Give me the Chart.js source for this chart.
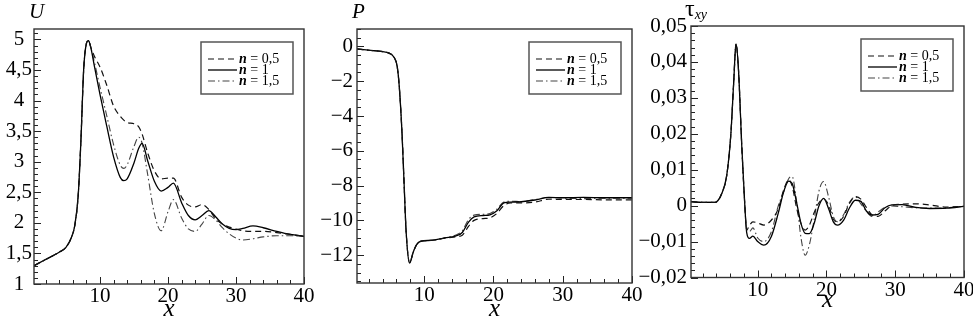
<!DOCTYPE html>
<html><head><meta charset="utf-8">
<script src="https://cdn.jsdelivr.net/npm/chart.js@4/dist/chart.umd.min.js"></script>
<style>
html,body{margin:0;padding:0;background:#fff;width:973px;height:324px;overflow:hidden;position:relative}
canvas{position:absolute;top:0}
.t{position:absolute;font-family:"Liberation Serif",serif;color:#000;line-height:20px;white-space:nowrap}
</style></head><body>
<canvas id="cU" width="320" height="324" style="left:0px"></canvas>
<canvas id="cP" width="335" height="324" style="left:310px"></canvas>
<canvas id="cT" width="345" height="324" style="left:628px"></canvas>
<div class="t" style="left:29px;top:1px;font-size:21px;font-style:italic">U</div>
<div class="t" style="left:352px;top:1px;font-size:21px;font-style:italic">P</div>
<div class="t" style="left:685px;top:-2px;font-size:24px">τ<sub style="font-size:14px;font-style:italic;vertical-align:-3px">xy</sub></div>
<script>
// ---------- data ----------
const seriesLabels = ['n = 0,5', 'n = 1', 'n = 1,5'];
const xTicks = [10, 20, 30, 40];
const uTicks = [1, 1.5, 2, 2.5, 3, 3.5, 4, 4.5, 5];
const pTicks = [-12, -10, -8, -6, -4, -2, 0];
const tTicks = [-0.02, -0.01, 0, 0.01, 0.02, 0.03, 0.04, 0.05];

// U panel
const X_U   = [0.3, 2, 4, 5, 5.8, 6.3, 6.8, 7.2, 7.6, 8, 8.3, 8.7, 9.2, 10, 11, 12, 13, 13.5, 14, 15, 15.7, 16.2, 17, 18, 19, 20, 20.8, 22, 23, 24, 25, 26, 27, 28, 29, 30, 31, 32.5, 34, 36, 38, 40];
const U_n05 = [1.30, 1.40, 1.52, 1.60, 1.76, 1.96, 2.45, 3.35, 4.50, 4.93, 4.98, 4.86, 4.72, 4.55, 4.25, 3.91, 3.74, 3.68, 3.64, 3.62, 3.57, 3.45, 3.15, 2.85, 2.72, 2.73, 2.73, 2.42, 2.29, 2.26, 2.30, 2.22, 2.07, 1.98, 1.93, 1.90, 1.87, 1.86, 1.86, 1.84, 1.81, 1.78];
const U_n1  = [1.30, 1.40, 1.52, 1.60, 1.76, 1.96, 2.45, 3.35, 4.50, 4.93, 4.98, 4.84, 4.55, 4.10, 3.58, 3.08, 2.74, 2.69, 2.72, 2.98, 3.22, 3.30, 3.02, 2.68, 2.52, 2.58, 2.65, 2.33, 2.12, 2.05, 2.12, 2.20, 2.10, 1.98, 1.91, 1.89, 1.91, 1.95, 1.92, 1.86, 1.81, 1.78];
const U_n15 = [1.30, 1.40, 1.52, 1.60, 1.76, 1.96, 2.45, 3.35, 4.50, 4.93, 4.98, 4.85, 4.62, 4.22, 3.75, 3.28, 2.94, 2.89, 2.95, 3.25, 3.40, 3.30, 2.80, 2.15, 1.87, 2.18, 2.38, 2.08, 1.90, 1.86, 1.98, 2.12, 2.05, 1.92, 1.82, 1.75, 1.72, 1.74, 1.77, 1.79, 1.79, 1.78];

// P panel
const X_P   = [0.3, 2, 4, 5, 5.6, 6.1, 6.4, 6.8, 7.1, 7.4, 7.9, 8.4, 8.9, 9.5, 11, 13, 14.5, 15.5, 16.4, 17.2, 18.5, 19.5, 20.5, 21.5, 22.5, 24, 26, 28, 30, 33, 36, 40];
const P_n05 = [-0.15, -0.22, -0.30, -0.40, -0.60, -1.15, -2.3, -5.0, -7.9, -10.7, -12.45, -11.85, -11.4, -11.2, -11.15, -11.02, -10.95, -10.85, -10.35, -10.0, -9.9, -9.85, -9.6, -9.15, -9.0, -9.0, -8.95, -8.78, -8.8, -8.8, -8.82, -8.82];
const P_n1  = [-0.15, -0.22, -0.30, -0.40, -0.60, -1.15, -2.3, -5.0, -7.9, -10.7, -12.45, -11.85, -11.4, -11.2, -11.15, -11.0, -10.9, -10.7, -10.1, -9.8, -9.72, -9.68, -9.45, -9.0, -8.95, -8.93, -8.83, -8.68, -8.7, -8.68, -8.7, -8.7];
const P_n15 = [-0.15, -0.22, -0.30, -0.40, -0.60, -1.15, -2.3, -5.0, -7.9, -10.7, -12.45, -11.85, -11.4, -11.2, -11.15, -11.0, -10.85, -10.6, -9.95, -9.7, -9.65, -9.6, -9.35, -8.95, -8.9, -8.92, -8.8, -8.68, -8.72, -8.75, -8.72, -8.72];

// tau_xy panel
const X_T   = [0.3, 2, 3.8, 4.8, 5.5, 6.1, 6.5, 6.85, 7.2, 7.7, 8.1, 8.4, 8.8, 9.3, 10, 10.9, 12, 13, 13.8, 14.5, 15, 15.7, 16.3, 16.9, 17.5, 18.2, 18.9, 19.6, 20.3, 21, 21.6, 22.5, 23.3, 24.2, 25, 25.8, 26.6, 27.5, 28.5, 29.5, 31, 33, 35, 37.5, 40];
const T_n05 = [0.0011, 0.0009, 0.0009, 0.0035, 0.0085, 0.020, 0.034, 0.045, 0.038, 0.016, 0.001, -0.0068, -0.0055, -0.0045, -0.0048, -0.0054, -0.0040, -0.0008, 0.0045, 0.0072, 0.0055, -0.0010, -0.0050, -0.0068, -0.0055, -0.0020, 0.0008, 0.0018, 0.0002, -0.0038, -0.0045, -0.0030, 0.0005, 0.0025, 0.0018, -0.0005, -0.0025, -0.0030, -0.0015, 0.0000, 0.0004, 0.0005, 0.0002, -0.0004, -0.0002];
const T_n1  = [0.0011, 0.0009, 0.0009, 0.0035, 0.0085, 0.020, 0.034, 0.045, 0.038, 0.016, 0.001, -0.0075, -0.0091, -0.0085, -0.0100, -0.0110, -0.0085, -0.0020, 0.0040, 0.0068, 0.0062, 0.0005, -0.0050, -0.0077, -0.0078, -0.0050, -0.0001, 0.0020, -0.0008, -0.0045, -0.0054, -0.0040, -0.0008, 0.0015, 0.0012, -0.0015, -0.0026, -0.0024, -0.0006, 0.0002, 0.0003, -0.0005, -0.0008, -0.0007, -0.0002];
const T_n15 = [0.0011, 0.0009, 0.0009, 0.0035, 0.0085, 0.020, 0.034, 0.045, 0.038, 0.016, 0.001, -0.0070, -0.0072, -0.0062, -0.0090, -0.0100, -0.0072, 0.0000, 0.0040, 0.0075, 0.0081, 0.0005, -0.0090, -0.0138, -0.0110, -0.0040, 0.0040, 0.0067, 0.0025, -0.0030, -0.0045, -0.0025, 0.0008, 0.0025, 0.0005, -0.0015, -0.0030, -0.0018, -0.0005, -0.0001, -0.0003, -0.0006, -0.0007, -0.0006, -0.0002];

// ---------- styles ----------
const styles = [
  {color: '#111', width: 1.2, dash: [6, 4]},
  {color: '#000', width: 1.3, dash: []},
  {color: '#444', width: 1.1, dash: [7, 3, 1.5, 3]}
];
const FONT = '"Liberation Serif", serif';

function fmt(v) {
  let s = String(Math.round(v * 1e6) / 1e6).replace('.', ',');
  if (s[0] === '-') s = '\u2212' + s.slice(1);
  return s;
}

const frameTicks = {
  id: 'frameTicks',
  afterDatasetsDraw(chart, args, o) {
    const {ctx, chartArea: a, scales: {x, y}} = chart;
    ctx.save();
    ctx.strokeStyle = '#222';
    ctx.lineWidth = 1;
    ctx.beginPath();
    const isMajor = (v, m) => Math.abs(v / m - Math.round(v / m)) < 1e-6;
    for (let k = Math.ceil(x.min / o.xMinor - 1e-9); k * o.xMinor <= x.max + 1e-9; k++) {
      const v = k * o.xMinor;
      const px = Math.round(x.getPixelForValue(v)) + 0.5;
      const len = isMajor(v, o.xMajor) ? 7 : 4;
      ctx.moveTo(px, a.bottom); ctx.lineTo(px, a.bottom - len);
    }
    for (let k = Math.ceil(y.min / o.yMinor - 1e-9); k * o.yMinor <= y.max + 1e-9; k++) {
      const v = k * o.yMinor;
      const py = Math.round(y.getPixelForValue(v)) + 0.5;
      const len = isMajor(v, o.yMajor) ? 7 : 4;
      ctx.moveTo(a.left, py); ctx.lineTo(a.left + len, py);
    }
    ctx.stroke();
    ctx.lineWidth = 1.4;
    ctx.strokeStyle = '#333';
    ctx.strokeRect(a.left, a.top, a.right - a.left, a.bottom - a.top);
    ctx.restore();
  }
};

const boxLegend = {
  id: 'boxLegend',
  afterDraw(chart, args, o) {
    const {ctx, chartArea: a} = chart;
    const bx = a.right - o.right - o.w, by = a.top + o.top;
    ctx.save();
    ctx.fillStyle = '#fff';
    ctx.fillRect(bx, by, o.w, o.h);
    ctx.strokeStyle = '#555';
    ctx.lineWidth = 1.5;
    ctx.strokeRect(bx, by, o.w, o.h);
    chart.data.datasets.forEach((d, i) => {
      const yy = by + o.row0 + i * o.rowGap;
      ctx.beginPath();
      ctx.setLineDash(d.borderDash || []);
      ctx.strokeStyle = d.borderColor;
      ctx.lineWidth = d.borderWidth;
      ctx.moveTo(bx + o.lx0, yy); ctx.lineTo(bx + o.lx1, yy);
      ctx.stroke();
      ctx.setLineDash([]);
      ctx.fillStyle = '#000';
      ctx.textBaseline = 'middle';
      ctx.textAlign = 'left';
      ctx.font = 'italic bold 14px ' + FONT;
      ctx.fillText(d.label[0], bx + o.tx, yy);
      const w = ctx.measureText(d.label[0]).width;
      ctx.font = '14px ' + FONT;
      ctx.fillText(d.label.slice(1), bx + o.tx + w, yy);
    });
    ctx.restore();
  }
};

function makeChart(id, cfg) {
  const canvas = document.getElementById(id);
  const W = canvas.width, H = canvas.height;
  return new Chart(canvas, {
    type: 'line',
    data: {
      datasets: cfg.series.map((s, i) => ({
        label: seriesLabels[i],
        data: cfg.xs.map((x, j) => ({x: x, y: s[j]})),
        borderColor: styles[i].color,
        borderWidth: styles[i].width,
        borderDash: styles[i].dash,
        pointRadius: 0,
        cubicInterpolationMode: 'monotone',
        fill: false
      }))
    },
    options: {
      responsive: false, animation: false, devicePixelRatio: 1,
      layout: {padding: {left: 0, top: cfg.area.top, right: W - cfg.area.right, bottom: 0}},
      plugins: {
        legend: {display: false}, tooltip: {enabled: false},
        frameTicks: {xMinor: 2, xMajor: 10, yMinor: cfg.yMinor, yMajor: cfg.yMajor},
        boxLegend: {right: 11, top: 13, w: 92, h: 52, row0: 17, rowGap: 11, lx0: 7, lx1: 36, tx: 38}
      },
      scales: {
        x: {
          type: 'linear', min: 0.3, max: 40,
          grid: {display: false, drawTicks: false}, border: {display: false},
          afterBuildTicks: s => { s.ticks = xTicks.map(v => ({value: v})); },
          afterFit: s => { s.height = H - cfg.area.bottom; s.paddingLeft = 0; s.paddingRight = 0; },
          ticks: {font: {family: FONT, size: 21}, color: '#000', padding: cfg.xTickPad, maxRotation: 0, autoSkip: false, callback: v => fmt(v)},
          title: {display: true, text: 'x', color: '#000', font: {family: FONT, style: 'italic', size: 25}, padding: {top: 0, bottom: cfg.xTitlePad}}
        },
        y: {
          type: 'linear', min: cfg.yMin, max: cfg.yMax,
          grid: {display: false, drawTicks: false}, border: {display: false},
          afterBuildTicks: s => { s.ticks = cfg.yTicks.map(v => ({value: v})); },
          afterFit: s => { s.width = cfg.area.left; s.paddingTop = 0; s.paddingBottom = 0; },
          ticks: {font: {family: FONT, size: 21}, color: '#000', padding: cfg.yTickPad, crossAlign: cfg.crossAlign, autoSkip: false, callback: v => fmt(v)}
        }
      }
    },
    plugins: [frameTicks, boxLegend]
  });
}

makeChart('cU', {xs: X_U, series: [U_n05, U_n1, U_n15], yTicks: uTicks, yMin: 1, yMax: 5.17, yMinor: 0.1, yMajor: 0.5,
  area: {left: 34, right: 304, top: 29, bottom: 284}, xTickPad: 0, xTitlePad: 0, yTickPad: 2, crossAlign: 'center'});
makeChart('cP', {xs: X_P, series: [P_n05, P_n1, P_n15], yTicks: pTicks, yMin: -13.6, yMax: 1.0, yMinor: 0.5, yMajor: 2,
  area: {left: 47, right: 322, top: 29, bottom: 283}, xTickPad: 0, xTitlePad: 0, yTickPad: 4, crossAlign: 'near'});
makeChart('cT', {xs: X_T, series: [T_n05, T_n1, T_n15], yTicks: tTicks, yMin: -0.02, yMax: 0.05, yMinor: 0.002, yMajor: 0.01,
  area: {left: 63, right: 336, top: 26, bottom: 277.5}, xTickPad: 0, xTitlePad: 9, yTickPad: 4, crossAlign: 'near'});
</script>
</body></html>
